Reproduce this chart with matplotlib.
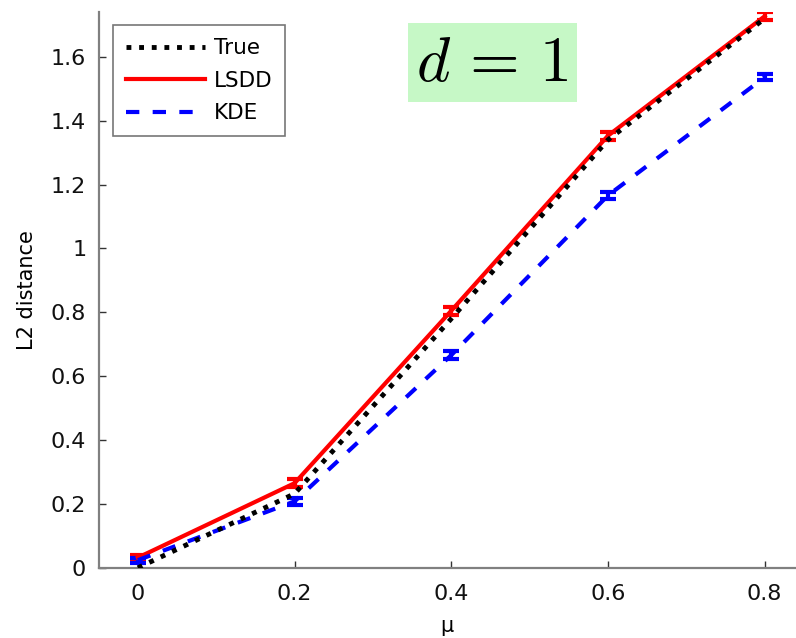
import matplotlib
matplotlib.use("Agg")
import matplotlib.pyplot as plt
from matplotlib.lines import Line2D
import numpy as np

plt.rcParams["mathtext.fontset"] = "cm"

mu = [0.0, 0.2, 0.4, 0.6, 0.8]
true_l2 = [0.0, 0.232, 0.78, 1.34, 1.72]
lsdd_l2 = [0.032, 0.265, 0.805, 1.353, 1.727]
lsdd_err = [0.008, 0.012, 0.012, 0.012, 0.012]
kde_l2 = [0.024, 0.208, 0.666, 1.166, 1.536]
kde_err = [0.008, 0.01, 0.012, 0.012, 0.01]

dotted = (0, (1.0, 1.6))
dashed = (0, (3.2, 3.2))

fig = plt.figure(figsize=(7.96, 6.38), dpi=100)
ax = fig.add_axes([0.124, 0.110, 0.876, 0.871])

ax.plot(mu, true_l2, color="black", linestyle=dotted, linewidth=3.5, zorder=3)
ax.errorbar(mu, lsdd_l2, yerr=lsdd_err, color="red", linewidth=3, capsize=6,
            capthick=3, elinewidth=3, zorder=2)
ax.errorbar(mu, kde_l2, yerr=kde_err, color="blue", linewidth=3, capsize=6,
            capthick=3, elinewidth=3, linestyle=dashed, zorder=2)

ax.set_xlim(-0.05, 0.84)
ax.set_ylim(0, 1.74)
ax.set_xticks(mu)
ax.set_xticklabels(["0", "0.2", "0.4", "0.6", "0.8"])
ax.set_yticks(np.arange(0, 1.61, 0.2))
ax.set_yticklabels(["0", "0.2", "0.4", "0.6", "0.8", "1", "1.2", "1.4", "1.6"])
ax.tick_params(direction="in", length=5, width=1, colors="#333333",
               labelsize=16, labelcolor="#111111")
ax.tick_params(axis="x", pad=12)
ax.tick_params(axis="y", pad=9)
ax.spines["top"].set_visible(False)
ax.spines["right"].set_visible(False)
for side in ("left", "bottom"):
    ax.spines[side].set_color("#808080")
    ax.spines[side].set_linewidth(1.6)

ax.set_xlabel("μ", fontsize=15, labelpad=8)
ax.set_ylabel("L2 distance", fontsize=15, labelpad=10)

handles = [
    Line2D([], [], color="black", linestyle=dotted, linewidth=3.5),
    Line2D([], [], color="red", linewidth=3),
    Line2D([], [], color="blue", linestyle=dashed, linewidth=3),
]
leg = ax.legend(handles, ["True", "LSDD", "KDE"], loc="upper left",
                bbox_to_anchor=(0.02, 0.976), fontsize=15.5, frameon=True,
                fancybox=False, handlelength=3.7, borderpad=0.6,
                labelspacing=0.58, handletextpad=0.4, borderaxespad=0)
leg.get_frame().set_edgecolor("#555555")
leg.get_frame().set_linewidth(1.2)

ax.text(0.565, 0.909, r"$d\,=\,1$", transform=ax.transAxes, fontsize=46,
        ha="center", va="center",
        bbox=dict(facecolor="#c6f8c6", edgecolor="none", pad=6))

fig.savefig("out.png", dpi=100)
